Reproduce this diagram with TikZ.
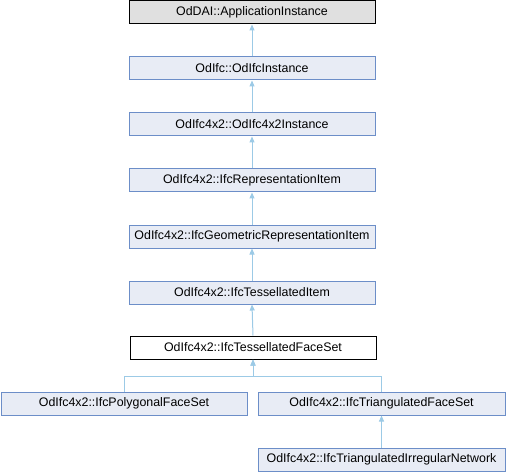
\documentclass[tikz,border=0pt]{standalone}
\usepackage{fontspec}
\setmainfont{Liberation Sans}
\usetikzlibrary{arrows.meta}
\definecolor{boxfill}{HTML}{E8ECF5}
\definecolor{boxline}{HTML}{6C8EC8}
\definecolor{edgecol}{HTML}{9CCAE6}
\definecolor{topfill}{HTML}{E0E0E0}
\begin{document}
\begin{tikzpicture}[x=1pt,y=1pt,
  cls/.style={draw=boxline,fill=boxfill,line width=1pt,minimum height=23pt,inner sep=0pt,font=\fontsize{12.4}{14}\selectfont,text=black},
  wide/.style={cls,minimum width=246pt},
  edge/.style={draw=edgecol,line width=1pt,-{Triangle[length=6pt,width=5pt,fill=edgecol]}}]
\useasboundingbox (0,0) rectangle (506,472);
\node[wide,draw=black,fill=topfill] (a) at (252,459.5) {OdDAI::ApplicationInstance};
\node[wide] (b) at (252,403.5) {OdIfc::OdIfcInstance};
\node[wide] (c) at (252,347.5) {OdIfc4x2::OdIfc4x2Instance};
\node[wide] (d) at (252,291.5) {OdIfc4x2::IfcRepresentationItem};
\node[wide] (e) at (252,235.5) {OdIfc4x2::IfcGeometricRepresentationItem};
\node[wide] (f) at (252,179.5) {OdIfc4x2::IfcTessellatedItem};
\node[wide,draw=black,fill=white] (g) at (253,124.5) {OdIfc4x2::IfcTessellatedFaceSet};
\node[cls,minimum width=246pt] (h) at (124,68.5) {OdIfc4x2::IfcPolygonalFaceSet};
\node[cls,minimum width=247pt] (i) at (381.5,68.5) {OdIfc4x2::IfcTriangulatedFaceSet};
\node[cls,minimum width=247pt] (k) at (381.5,12.5) {OdIfc4x2::IfcTriangulatedIrregularNetwork};
\coordinate (j) at (253,96);
\draw[edge] (b.north) -- (a.south);
\draw[edge] (c.north) -- (b.south);
\draw[edge] (d.north) -- (c.south);
\draw[edge] (e.north) -- (d.south);
\draw[edge] (f.north) -- (e.south);
\draw[edge] (g.north) -- (f.south);
\draw[edge] (h.north) |- (j) -- (g.south);
\draw[edge] (i.north) |- (j) -- (g.south);
\draw[edge] (k.north) -- (i.south);
\end{tikzpicture}
\end{document}
